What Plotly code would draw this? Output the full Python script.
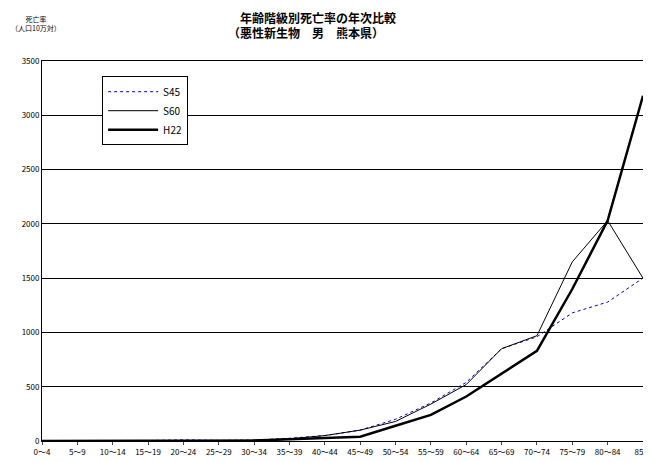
import plotly.graph_objects as go

ages = ['0～4', '5～9', '10～14', '15～19', '20～24', '25～29', '30～34', '35～39', '40～44',
        '45～49', '50～54', '55～59', '60～64', '65～69', '70～74', '75～79', '80～84', '85～']
s45 = [3, 2, 2, 4, 10, 5, 8, 25, 50, 100, 200, 350, 540, 850, 960, 1180, 1280, 1500]
s60 = [2, 1, 1, 3, 5, 4, 8, 20, 50, 100, 180, 340, 520, 850, 970, 1650, 2030, 1500]
h22 = [1, 1, 1, 1, 2, 3, 5, 15, 30, 40, 140, 240, 410, 620, 830, 1400, 2030, 3180]

x = list(range(len(ages)))
fig = go.Figure()
fig.add_trace(go.Scatter(x=x, y=s45, name='S45', mode='lines',
                         line=dict(color='#0000cc', width=1, dash='dot')))
fig.add_trace(go.Scatter(x=x, y=s60, name='S60', mode='lines',
                         line=dict(color='black', width=1)))
fig.add_trace(go.Scatter(x=x, y=h22, name='H22', mode='lines',
                         line=dict(color='black', width=2.5)))

fig.update_layout(
    width=651, height=462, plot_bgcolor='white', paper_bgcolor='white',
    margin=dict(l=34, r=16, t=53, b=29, autoexpand=False),
    font=dict(family='Noto Sans CJK JP', size=9, color='black'),
    legend=dict(x=0.1, y=0.96, xanchor='left', yanchor='top', bgcolor='white',
                bordercolor='black', borderwidth=1, font=dict(size=10),
                tracegroupgap=0, itemwidth=50),
    showlegend=True,
)
fig.update_xaxes(range=[0, 17], tickmode='array', tickvals=x, ticktext=ages,
                 showgrid=False, showline=True, linecolor='black', mirror=True,
                 ticks='outside', ticklen=3, tickangle=0, tickfont=dict(size=8))
fig.update_yaxes(range=[0, 3500], dtick=500, showgrid=True, gridcolor='black',
                 gridwidth=1, showline=True, linecolor='black', mirror=True,
                 zeroline=False, tickfont=dict(size=8))
fig.add_annotation(text='<b>年齢階級別死亡率の年次比較</b>', xref='paper', yref='paper',
                   x=0.46, y=1.115, xanchor='center', yanchor='middle', showarrow=False,
                   font=dict(size=12))
fig.add_annotation(text='<b>（悪性新生物　男　熊本県）</b>', xref='paper', yref='paper',
                   x=0.44, y=1.075, xanchor='center', yanchor='middle', showarrow=False,
                   font=dict(size=12))
fig.add_annotation(text='死亡率<br>（人口10万対）', xref='paper', yref='paper',
                   x=-0.055, y=1.13, xanchor='left', yanchor='top', showarrow=False,
                   align='center', font=dict(size=7))
fig.write_html('out.html')
